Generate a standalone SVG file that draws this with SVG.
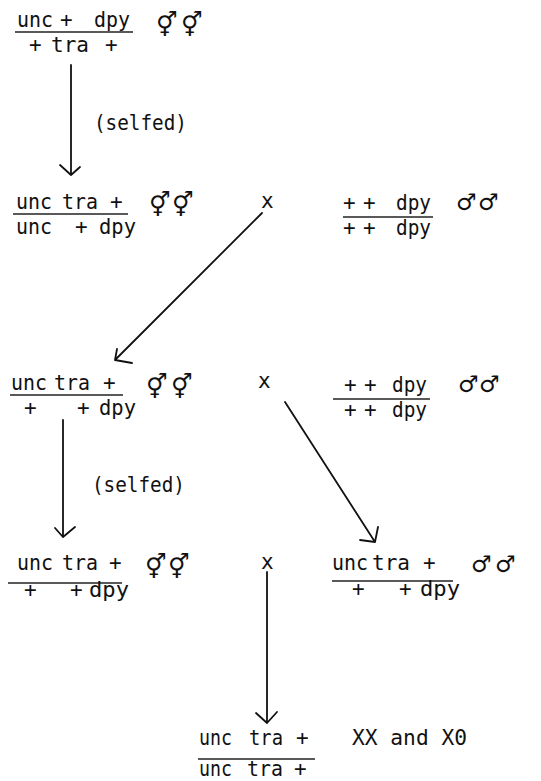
<svg xmlns="http://www.w3.org/2000/svg" width="541" height="781" viewBox="0 0 541 781">
<style>
  text { font-family: "DejaVu Sans Mono", "Liberation Mono", monospace; font-size: 21px; fill: #111; }
  .sym { font-family: "DejaVu Sans", "Noto Sans", sans-serif; font-size: 24px; }
  .msym { font-family: "DejaVu Sans", "Noto Sans", sans-serif; font-size: 23px; }
  .bar { stroke: #222; stroke-width: 1.3; fill: none; }
  .conn { stroke: #111; stroke-width: 1.8; fill: none; stroke-linecap: round; stroke-linejoin: round; }
</style>
<rect width="541" height="781" fill="#fff"/>

<g id="node1">
  <text x="17" y="27" textLength="36" lengthAdjust="spacingAndGlyphs">unc</text><text x="60" y="27">+</text><text x="94" y="27" textLength="36" lengthAdjust="spacingAndGlyphs">dpy</text>
  <line class="bar" x1="15" y1="32" x2="133" y2="32"/>
  <text x="29" y="52">+</text><text x="51" y="52" textLength="38" lengthAdjust="spacingAndGlyphs">tra</text><text x="105" y="52">+</text>
  <text class="sym" x="156" y="33">⚥</text><text class="sym" x="181" y="33">⚥</text>
</g>

<g id="node2">
  <text x="16" y="209" textLength="36" lengthAdjust="spacingAndGlyphs">unc</text><text x="62" y="209" textLength="36" lengthAdjust="spacingAndGlyphs">tra</text><text x="110" y="209">+</text>
  <line class="bar" x1="13" y1="214" x2="128" y2="214"/>
  <text x="16" y="234" textLength="36" lengthAdjust="spacingAndGlyphs">unc</text><text x="75" y="234">+</text><text x="99" y="234" textLength="37" lengthAdjust="spacingAndGlyphs">dpy</text>
  <text class="sym" x="149" y="213">⚥</text><text class="sym" x="172" y="213">⚥</text>
</g>
<g id="cross1"><text x="261" y="208">x</text></g>
<g id="node3">
  <text x="343" y="210">+</text><text x="363" y="210">+</text><text x="396" y="210" textLength="35" lengthAdjust="spacingAndGlyphs">dpy</text>
  <line class="bar" x1="343" y1="217" x2="433" y2="217"/>
  <text x="343" y="235">+</text><text x="363" y="235">+</text><text x="396" y="235" textLength="35" lengthAdjust="spacingAndGlyphs">dpy</text>
  <text class="msym" x="456" y="210">♂</text><text class="msym" x="478" y="210">♂</text>
</g>

<g id="node4">
  <text x="11" y="390" textLength="36" lengthAdjust="spacingAndGlyphs">unc</text><text x="54" y="390" textLength="36" lengthAdjust="spacingAndGlyphs">tra</text><text x="103" y="390">+</text>
  <line class="bar" x1="10" y1="395" x2="123" y2="395"/>
  <text x="24" y="415">+</text><text x="77" y="415">+</text><text x="99" y="415" textLength="37" lengthAdjust="spacingAndGlyphs">dpy</text>
  <text class="sym" x="146" y="395">⚥</text><text class="sym" x="171" y="395">⚥</text>
</g>
<g id="cross2"><text x="258" y="388">x</text></g>
<g id="node5">
  <text x="344" y="392">+</text><text x="364" y="392">+</text><text x="392" y="392" textLength="35" lengthAdjust="spacingAndGlyphs">dpy</text>
  <line class="bar" x1="333" y1="399" x2="430" y2="399"/>
  <text x="344" y="417">+</text><text x="364" y="417">+</text><text x="392" y="417" textLength="35" lengthAdjust="spacingAndGlyphs">dpy</text>
  <text class="msym" x="458" y="392">♂</text><text class="msym" x="479" y="392">♂</text>
</g>

<g id="node6">
  <text x="17" y="570" textLength="36" lengthAdjust="spacingAndGlyphs">unc</text><text x="62" y="570" textLength="36" lengthAdjust="spacingAndGlyphs">tra</text><text x="109" y="570">+</text>
  <line class="bar" x1="8" y1="583" x2="122" y2="583"/>
  <text x="24" y="597">+</text><text x="70" y="597">+</text><text x="89" y="597" textLength="40" lengthAdjust="spacingAndGlyphs">dpy</text>
  <text class="sym" x="145" y="575">⚥</text><text class="sym" x="168" y="575">⚥</text>
</g>
<g id="cross3"><text x="261" y="569">x</text></g>
<g id="node7">
  <text x="332" y="570" textLength="36" lengthAdjust="spacingAndGlyphs">unc</text><text x="372" y="570" textLength="38" lengthAdjust="spacingAndGlyphs">tra</text><text x="423" y="570">+</text>
  <line class="bar" x1="332" y1="581" x2="453" y2="581"/>
  <text x="352" y="596">+</text><text x="399" y="596">+</text><text x="420" y="596" textLength="40" lengthAdjust="spacingAndGlyphs">dpy</text>
  <text class="msym" x="471" y="572">♂</text><text class="msym" x="495" y="572">♂</text>
</g>

<g id="node8">
  <text x="199" y="745" textLength="33" lengthAdjust="spacingAndGlyphs">unc</text><text x="249" y="745" textLength="34" lengthAdjust="spacingAndGlyphs">tra</text><text x="296" y="745">+</text>
  <line class="bar" x1="198" y1="759" x2="315" y2="759"/>
  <text x="199" y="776" textLength="33" lengthAdjust="spacingAndGlyphs">unc</text><text x="247" y="776" textLength="36" lengthAdjust="spacingAndGlyphs">tra</text><text x="294" y="776">+</text>
  <text x="352" y="745" textLength="115" lengthAdjust="spacingAndGlyphs">XX and X0</text>
</g>

<g id="labels">
  <text x="94" y="130" textLength="93" lengthAdjust="spacingAndGlyphs">(selfed)</text>
  <text x="92" y="492" textLength="93" lengthAdjust="spacingAndGlyphs">(selfed)</text>
</g>

<g id="connectors">
  <path class="conn" d="M71,65 L71,175 M60,165 L71,175 L80,167"/>
  <path class="conn" d="M262,213 L115,360 M117,349 L115,360 L132,363"/>
  <path class="conn" d="M63,420 L63,537 M55,528 L63,537 L75,527"/>
  <path class="conn" d="M285,402 L375,542 M378,527 L375,542 L360,540"/>
  <path class="conn" d="M267,572 L267,723 M256,713 L267,723 L277,712"/>
</g>
</svg>
